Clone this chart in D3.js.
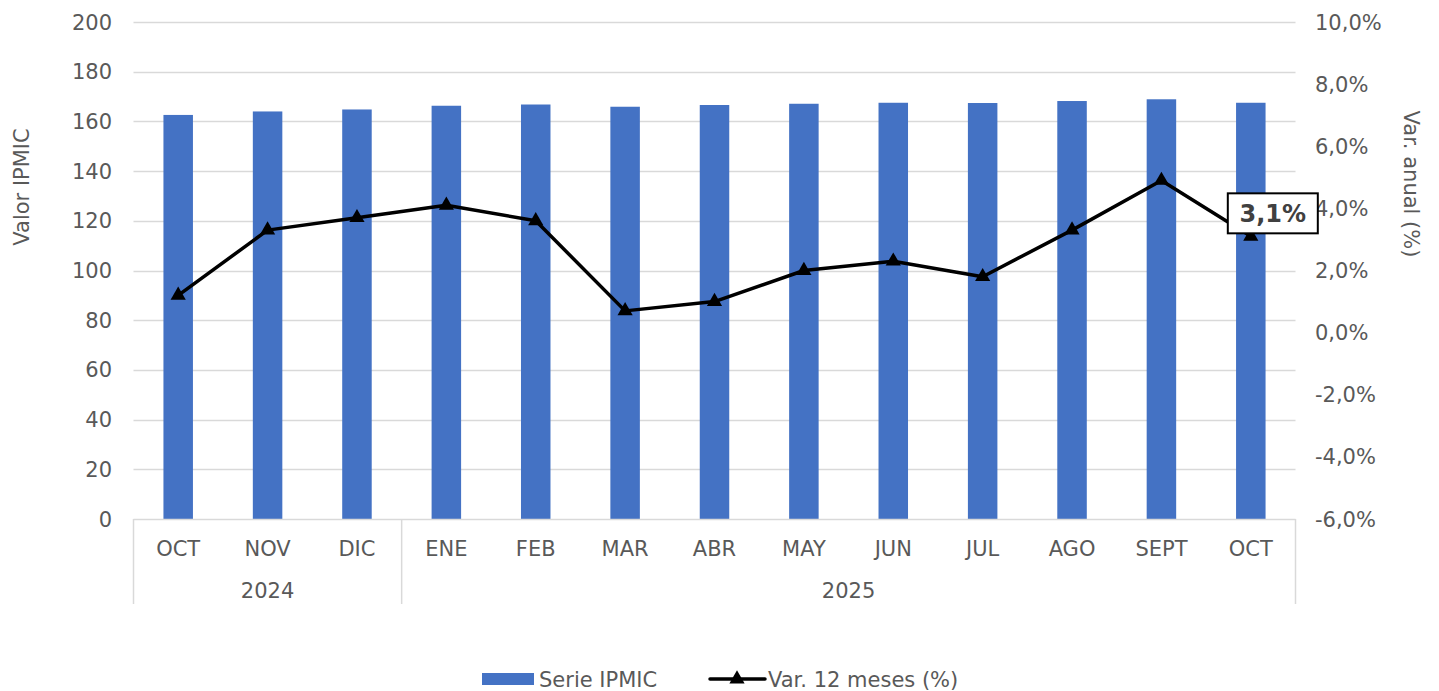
<!DOCTYPE html>
<html><head><meta charset="utf-8">
<script src="https://cdn.jsdelivr.net/npm/d3@7"></script>
<style>body{margin:0;background:#fff}svg{display:block}text{font-family:"DejaVu Sans",Verdana,sans-serif}</style>
</head><body>
<svg id="c" width="1439" height="691"></svg>
<script>
const months = ["OCT","NOV","DIC","ENE","FEB","MAR","ABR","MAY","JUN","JUL","AGO","SEPT","OCT"];
const years = [{label:"2024", start:0, end:3},{label:"2025", start:3, end:13}];
const ipmic = [162.6,164.0,164.8,166.3,166.8,165.9,166.6,167.1,167.5,167.4,168.2,168.9,167.5];
const var12 = [1.2,3.3,3.7,4.1,3.6,0.7,1.0,2.0,2.3,1.8,3.3,4.9,3.1];
const leftTicks = [0,20,40,60,80,100,120,140,160,180,200];
const rightTicks = [-6,-4,-2,0,2,4,6,8,10];

const svg = d3.select("#c");
const L = 133.5, R = 1295.5, T = 22, B = 519;
const x = d3.scaleBand().domain(d3.range(months.length)).range([L,R]).paddingInner(0).paddingOuter(0);
const yL = d3.scaleLinear().domain([0,200]).range([B,T]);
const yR = d3.scaleLinear().domain([-6,10]).range([B,T]);
const txt = "#595959", grid = "#d9d9d9", fs = 21;

// gridlines
svg.append("g").selectAll("line").data(leftTicks.filter(d=>d>0)).join("line")
  .attr("x1",L).attr("x2",R).attr("y1",d=>Math.round(yL(d))+0.5).attr("y2",d=>Math.round(yL(d))+0.5)
  .attr("stroke",grid).attr("stroke-width",1.5);

// bars
const bw = 29.5;
svg.append("g").selectAll("rect").data(ipmic).join("rect")
  .attr("x",(d,i)=>x(i)+x.bandwidth()/2-bw/2).attr("width",bw)
  .attr("y",d=>yL(d)).attr("height",d=>B-yL(d)).attr("fill","#4472c4");

// x axis line and separators
svg.append("line").attr("x1",L).attr("x2",R).attr("y1",B+0.5).attr("y2",B+0.5).attr("stroke",grid).attr("stroke-width",1.5);
const seps = [0,3,13];
svg.append("g").selectAll("line").data(seps).join("line")
  .attr("x1",d=>d<13?x(d):R).attr("x2",d=>d<13?x(d):R).attr("y1",B).attr("y2",604)
  .attr("stroke",grid).attr("stroke-width",1.5);

// month labels
svg.append("g").selectAll("text").data(months).join("text")
  .attr("x",(d,i)=>x(i)+x.bandwidth()/2).attr("y",556).attr("text-anchor","middle")
  .attr("font-size",fs).attr("fill",txt).text(d=>d);
// year labels
svg.append("g").selectAll("text").data(years).join("text")
  .attr("x",d=>(x(d.start)+(d.end<13?x(d.end):R))/2).attr("y",598).attr("text-anchor","middle")
  .attr("font-size",fs).attr("fill",txt).text(d=>d.label);

// left ticks
svg.append("g").selectAll("text").data(leftTicks).join("text")
  .attr("x",112).attr("y",d=>yL(d)+7.5).attr("text-anchor","end")
  .attr("font-size",fs).attr("fill",txt).text(d=>d);
// right ticks
const fmt = d=> d3.format(".1f")(d).replace(".",",").replace("−","-")+"%";
svg.append("g").selectAll("text").data(rightTicks).join("text")
  .attr("x",1315).attr("y",d=>yR(d)+7.5).attr("text-anchor","start")
  .attr("font-size",fs).attr("fill",txt).text(fmt);

// axis titles
svg.append("text").attr("transform","translate(29,187) rotate(-90)").attr("text-anchor","middle")
  .attr("font-size",fs).attr("fill",txt).text("Valor IPMIC");
svg.append("text").attr("transform","translate(1404,184) rotate(90)").attr("text-anchor","middle")
  .attr("font-size",fs).attr("fill",txt).text("Var. anual (%)");

// line
const line = d3.line().x((d,i)=>x(i)+x.bandwidth()/2).y(d=>yR(d));
svg.append("path").datum(var12).attr("d",line).attr("fill","none").attr("stroke","#000").attr("stroke-width",3.5).attr("stroke-linejoin","round");
const tri = d3.symbol().type(d3.symbolTriangle).size(100);
svg.append("g").selectAll("path").data(var12).join("path")
  .attr("transform",(d,i)=>`translate(${x(i)+x.bandwidth()/2},${yR(d)})`).attr("d",tri).attr("fill","#000");

// data label on last point
const li = var12.length-1;
const lx = x(li)+x.bandwidth()/2, ly = yR(var12[li]);
const lab = svg.append("g").attr("transform",`translate(${lx+22},${ly-23})`);
lab.append("rect").attr("x",-45).attr("y",-20).attr("width",90).attr("height",40).attr("fill","#fff").attr("stroke","#000").attr("stroke-width",2);
lab.append("text").attr("x",0).attr("y",9).attr("text-anchor","middle").attr("font-size",24).attr("font-weight","bold").attr("fill","#404040")
  .text(fmt(var12[li]));

// legend
const lg = svg.append("g");
lg.append("rect").attr("x",482).attr("y",673).attr("width",52).attr("height",12).attr("fill","#4472c4");
lg.append("text").attr("x",539).attr("y",687).attr("font-size",fs).attr("fill",txt).text("Serie IPMIC");
lg.append("line").attr("x1",710).attr("x2",765).attr("y1",679).attr("y2",679).attr("stroke","#000").attr("stroke-width",3.5).attr("stroke-linecap","round");
lg.append("path").attr("transform","translate(737,679)").attr("d",tri).attr("fill","#000");
lg.append("text").attr("x",768).attr("y",687).attr("font-size",fs).attr("fill",txt).text("Var. 12 meses (%)");
</script>
</body></html>
